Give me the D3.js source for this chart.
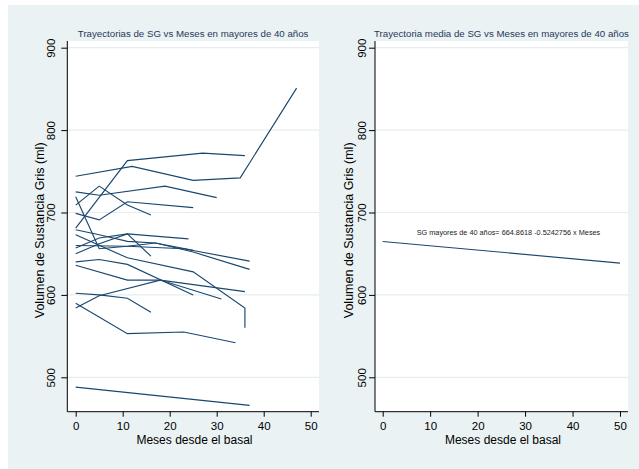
<!DOCTYPE html>
<html>
<head>
<meta charset="utf-8">
<script src="https://cdn.jsdelivr.net/npm/d3@7"></script>
<style>
  html, body { margin: 0; padding: 0; background: #ffffff; }
  svg { display: block; font-family: "Liberation Sans", Arial, sans-serif; }
</style>
</head>
<body>
<svg id="chart" width="639" height="469"></svg>
<script>
// Individual trajectories: months since baseline and grey-matter volume (ml)
const subjectMonths = [
  [0, 12, 25, 35, 47],
  [0, 11, 27, 36],
  [0, 5, 19, 30],
  [0, 5, 11, 16],
  [0, 5, 11, 25],
  [0, 5, 11, 17, 25],
  [0, 5, 11, 17, 25, 37],
  [0, 11, 25, 36, 36],
  [0, 5, 11, 24],
  [0, 5, 11, 16],
  [0, 11, 23, 37],
  [0, 5, 11, 25],
  [0, 11, 18, 36],
  [0, 5, 11, 16],
  [0, 5, 18, 31],
  [0, 11, 23, 34],
  [0, 37]
];
const subjectSG = [
  [744, 756, 739, 742, 851],
  [681, 763, 772, 769],
  [725, 721, 732, 718],
  [709, 732, 709, 697],
  [699, 691, 713, 706],
  [719, 656, 659, 663, 654],
  [679, 673, 665, 663, 652, 631],
  [673, 645, 628, 584, 560],
  [657, 669, 674, 668],
  [650, 662, 674, 647],
  [660, 659, 656, 641],
  [640, 643, 637, 600],
  [636, 618, 618, 604],
  [602, 600, 596, 579],
  [584, 599, 618, 595],
  [590, 553, 555, 542],
  [488, 466]
];

// Fitted mean trajectory
const meanIntercept = 664.8618;
const meanSlope = -0.5242756;
const meanMonths = [0, 50];

// Axis ticks and labels
const xTicks = [0, 10, 20, 30, 40, 50];
const yTicks = [500, 600, 700, 800, 900];
const titles = [
  "Trayectorias de SG vs Meses en mayores de 40 años",
  "Trayectoria media de SG vs Meses en mayores de 40 años"
];
const yTitle = "Volumen de Sustancia Gris (ml)";
const xTitle = "Meses desde el basal";
const meanLabel = "SG mayores de 40 años= 664.8618 -0.5242756 x Meses";

const navy = "#1a476f";
const bg = "#eaf2f3";
const font = '"Liberation Sans", Arial, sans-serif';

const svg = d3.select("#chart");
svg.append("rect").attr("x", 8).attr("y", 5).attr("width", 631).attr("height", 464).attr("fill", bg);

const plotTop = 41, plotBottom = 411.7;
const y = d3.scaleLinear().domain([500, 900]).range([377.3, 47.7]);

const panels = [
  { left: 67.3, right: 319, x: d3.scaleLinear().domain([0, 50]).range([75.7, 310.7]),
    tickLabelX: 55.3, yTitleX: 44, xTitleX: 194.5 },
  { left: 375, right: 628, x: d3.scaleLinear().domain([0, 50]).range([382.7, 620]),
    tickLabelX: 366, yTitleX: 353, xTitleX: 503 }
];

panels.forEach((p, i) => {
  const g = svg.append("g");
  // plot region
  g.append("rect").attr("x", p.left).attr("y", plotTop)
    .attr("width", p.right - p.left).attr("height", plotBottom - plotTop).attr("fill", "#ffffff");
  // horizontal grid
  g.selectAll(".grid").data(yTicks).enter().append("line")
    .attr("x1", p.left).attr("x2", p.right)
    .attr("y1", d => y(d)).attr("y2", d => y(d))
    .attr("stroke", "#e4eef0").attr("stroke-width", 1.2);

  // y axis
  const ya = g.append("g").attr("transform", `translate(${p.left},0)`)
    .call(d3.axisLeft(y).tickValues(yTicks).tickSize(6).tickSizeOuter(0));
  ya.select(".domain").attr("d", `M0,${plotTop}V${plotBottom}`).attr("stroke", "#000");
  ya.selectAll(".tick line").attr("stroke", "#000");
  ya.selectAll(".tick text")
    .attr("x", null).attr("dy", null)
    .attr("transform", `translate(${p.tickLabelX - p.left},0) rotate(-90)`)
    .attr("text-anchor", "middle")
    .attr("font-family", font).attr("font-size", 11.5).attr("fill", "#000");

  // x axis
  const xa = g.append("g").attr("transform", `translate(0,${plotBottom})`)
    .call(d3.axisBottom(p.x).tickValues(xTicks).tickSize(5).tickSizeOuter(0));
  xa.select(".domain").attr("d", `M${p.left},0H${p.right}`).attr("stroke", "#000");
  xa.selectAll(".tick line").attr("stroke", "#000");
  xa.selectAll(".tick text")
    .attr("y", 430 - plotBottom).attr("dy", null)
    .attr("font-family", font).attr("font-size", 11.5).attr("fill", "#000");

  // axis titles
  g.append("text").attr("transform", `translate(${p.yTitleX},${(plotTop + plotBottom) / 2 + 4}) rotate(-90)`)
    .attr("text-anchor", "middle").attr("font-family", font).attr("font-size", 12.5)
    .attr("fill", "#000").text(yTitle);
  g.append("text").attr("x", p.xTitleX).attr("y", 443.5)
    .attr("text-anchor", "middle").attr("font-family", font).attr("font-size", 12)
    .attr("fill", "#000").text(xTitle);

  // panel title
  g.append("text").attr("x", (p.left + p.right) / 2).attr("y", 36.5)
    .attr("text-anchor", "middle").attr("font-family", font).attr("font-size", 9.7)
    .attr("fill", "#26395a").text(titles[i]);
});

// Left panel: one line per subject
const left = panels[0];
const lineL = d3.line().x(d => left.x(d[0])).y(d => y(d[1]));
svg.append("g").selectAll("path")
  .data(subjectMonths.map((m, i) => m.map((t, j) => [t, subjectSG[i][j]])))
  .enter().append("path")
  .attr("d", lineL).attr("fill", "none").attr("stroke", navy).attr("stroke-width", 1.15);

// Right panel: fitted mean line
const right = panels[1];
const lineR = d3.line().x(d => right.x(d)).y(d => y(meanIntercept + meanSlope * d));
svg.append("path").datum(meanMonths).attr("d", lineR)
  .attr("fill", "none").attr("stroke", navy).attr("stroke-width", 1.15);

svg.append("text").attr("x", right.x(26.5)).attr("y", y(672.3))
  .attr("text-anchor", "middle").attr("font-family", font).attr("font-size", 7.3)
  .attr("fill", "#222").text(meanLabel);
</script>
</body>
</html>
